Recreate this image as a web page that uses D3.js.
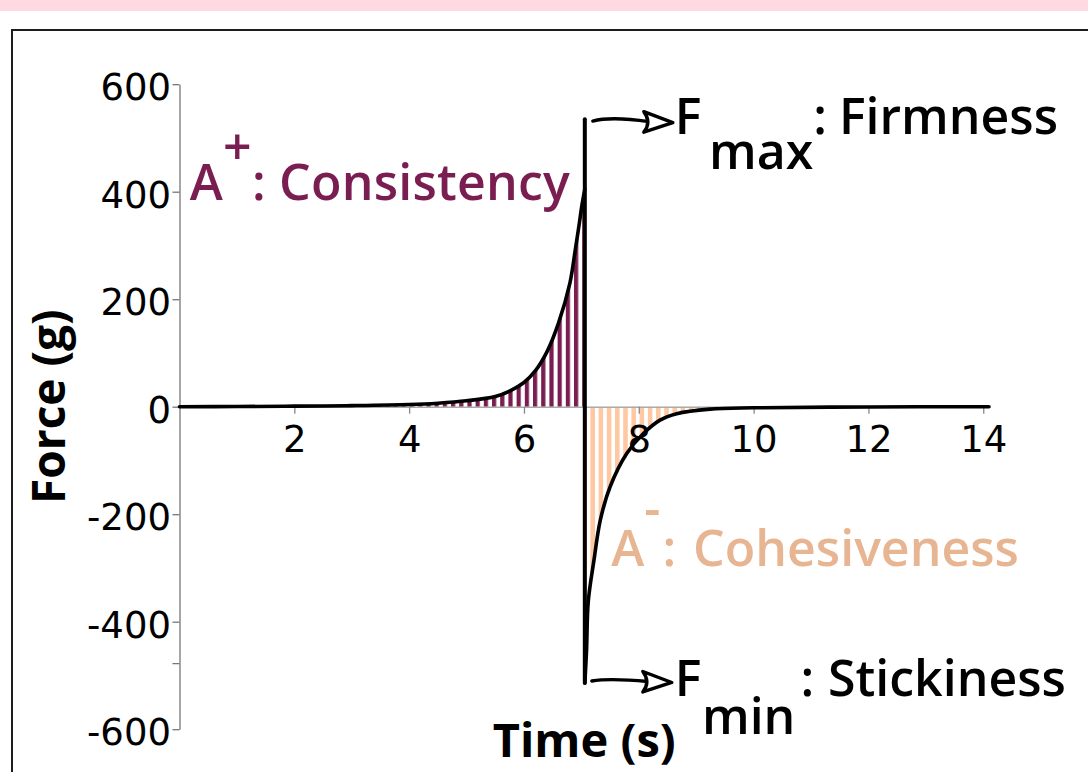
<!DOCTYPE html>
<html><head><meta charset="utf-8">
<script src="https://cdn.jsdelivr.net/npm/d3@7"></script>
<style>html,body{margin:0;padding:0;background:#fff;} svg{display:block;}</style>
</head><body>
<script>
// ---- data ----
const riseTime  = [0, 1, 2, 3, 4, 4.5, 5, 5.5, 5.75, 6.0, 6.2, 6.4, 6.6, 6.8, 6.89, 6.96, 7.01, 7.06];
const riseForce = [0, 0.3, 1, 2, 4, 6.5, 11, 19, 29, 45, 67, 102, 155, 230, 289, 338, 375, 405];
const spikeTime  = [7.06, 7.06];
const spikeForce = [535, -514];
const dropTime  = [7.06, 7.09, 7.12, 7.22, 7.33, 7.5, 7.79, 8.08, 8.37, 8.66, 9.24, 10, 12, 14.1];
const dropForce = [-514, -453, -362, -285, -211, -149, -87, -50, -25, -13, -4.5, -2, -0.5, 0];
const xTicks = [2, 4, 6, 8, 10, 12, 14];
const yTicks = [-600, -400, -200, 0, 200, 400, 600];
const yMinorTicks = [-478];
const xDomain = [0, 14.1];
const yDomain = [-600, 600];

const W = 1088, H = 772;
const purple = "#7a1d50", peachStripe = "#fec9a2", peachText = "#e8b592";
const labelFont = "'Open Sans', 'Noto Sans', sans-serif";

const svg = d3.select("body").append("svg").attr("width", W).attr("height", H);

// top band and frame
svg.append("rect").attr("x", 0).attr("y", 0).attr("width", W).attr("height", 11).attr("fill", "#ffdae3");
svg.append("path").attr("d", `M12,${H} L12,30 L${W},30`).attr("fill", "none").attr("stroke", "#1c1c1c").attr("stroke-width", 2);

const x = d3.scaleLinear().domain(xDomain).range([179.5, 989]);
const y = d3.scaleLinear().domain(yDomain).range([729.2, 84.2]);

const rise = riseTime.map((t, i) => ({t, f: riseForce[i]}));
const drop = dropTime.map((t, i) => ({t, f: dropForce[i]}));
const spike = spikeTime.map((t, i) => ({t, f: spikeForce[i]}));

// stripe patterns
const defs = svg.append("defs");
function stripes(id, color, w) {
  const p = defs.append("pattern").attr("id", id).attr("patternUnits", "userSpaceOnUse")
    .attr("width", 8.2).attr("height", 20);
  p.append("rect").attr("x", 0).attr("y", 0).attr("width", w).attr("height", 20).attr("fill", color);
}
stripes("hPlus", purple, 4.2);
stripes("hMinus", peachStripe, 4.6);

const smooth = d3.curveCatmullRom.alpha(0.5);
const area = d3.area().x(d => x(d.t)).y0(y(0)).y1(d => y(d.f)).curve(smooth);
svg.append("path").datum(rise).attr("d", area).attr("fill", "url(#hPlus)");
svg.append("path").datum(drop).attr("d", area).attr("fill", "url(#hMinus)");

// axes
const tickFont = "'DejaVu Sans', sans-serif";
const yAxis = svg.append("g").attr("transform", `translate(${x(0)},0)`)
  .call(d3.axisLeft(y).tickValues(yTicks).tickSize(7).tickSizeOuter(0).tickPadding(1.5).tickFormat(d => String(d)));
yAxis.selectAll("text").attr("font-family", tickFont).attr("font-size", 37).attr("fill", "#000").attr("dy", "0.42em");
yAxis.selectAll("line").attr("stroke", "#777").attr("stroke-width", 1.3);
yAxis.select(".domain").attr("stroke", "#777").attr("stroke-width", 1.3);
yAxis.selectAll(".minor").data(yMinorTicks).enter().append("line").attr("class", "minor")
  .attr("x1", -7).attr("x2", 0).attr("y1", d => y(d)).attr("y2", d => y(d)).attr("stroke", "#777").attr("stroke-width", 1.3);

const xAxis = svg.append("g").attr("transform", `translate(0,${y(0)})`)
  .call(d3.axisBottom(x).tickValues(xTicks).tickSize(7).tickSizeOuter(0).tickPadding(12).tickFormat(d => String(d)));
xAxis.selectAll("text").attr("font-family", tickFont).attr("font-size", 37).attr("fill", "#000");
xAxis.selectAll("line").attr("stroke", "#888").attr("stroke-width", 1.3);
xAxis.select(".domain").attr("stroke", "#aaa").attr("stroke-width", 1.6);
yAxis.raise();

// force curve
const line = d3.line().x(d => x(d.t)).y(d => y(d.f)).curve(smooth);
const curveStyle = p => p.attr("fill", "none").attr("stroke", "#000").attr("stroke-width", 3.6)
  .attr("stroke-linejoin", "round").attr("stroke-linecap", "round");
svg.append("path").datum(rise).attr("d", line).call(curveStyle);
svg.append("path").datum(drop).attr("d", line).call(curveStyle);
svg.append("path").datum(spike).attr("d", d3.line().x(d => x(d.t)).y(d => y(d.f))).call(curveStyle).attr("stroke-width", 4);

// axis titles
svg.append("text").attr("x", (x.range()[0] + x.range()[1]) / 2).attr("y", 757)
  .attr("text-anchor", "middle").attr("font-family", labelFont).attr("font-weight", 700).attr("font-size", 47)
  .text("Time (s)");
const yMid = (y.range()[0] + y.range()[1]) / 2;
svg.append("text").attr("transform", `translate(65,${yMid}) rotate(-90)`)
  .attr("text-anchor", "middle").attr("font-family", labelFont).attr("font-weight", 700).attr("font-size", 46)
  .text("Force (g)");

// annotation labels
function label(px, py, base, script, scriptDx, scriptDy, rest, restDx, color) {
  const t = svg.append("text").attr("x", px).attr("y", py).attr("font-family", labelFont)
    .attr("font-weight", 600).attr("font-size", 50).attr("fill", color);
  t.append("tspan").text(base);
  t.append("tspan").attr("dx", scriptDx).attr("dy", scriptDy).text(script);
  t.append("tspan").attr("dx", restDx).attr("dy", -scriptDy).text(rest);
  return t;
}
label(x(0.18), y(385), "A", "+", 0, -35, ": Consistency", 0, purple)
  .attr("textLength", 380).attr("lengthAdjust", "spacing");
label(x(7.52), y(-296), "A", "-", 0, -40, ":", 2, peachText)
  .append("tspan").attr("dx", 4).text(" Cohesiveness");

const spX = x(spikeTime[0]);
const topY = y(spikeForce[0]), botY = y(spikeForce[1]);
label(spX + 90, topY + 15, "F", "max", 7.5, 35, ":", 0, "#000").append("tspan").attr("dx", -1).text(" Firmness");
label(spX + 90, botY + 13, "F", "min", 0.5, 38, ":", 5, "#000").append("tspan").attr("dx", 1).text(" Stickiness");

// arrows
function arrow(sx, sy, bend) {
  const g = svg.append("g").attr("fill", "none").attr("stroke", "#000").attr("stroke-width", 3.4)
    .attr("stroke-linejoin", "round").attr("stroke-linecap", "round");
  g.append("path").attr("d", `M${sx},${sy} Q${sx + 18},${sy + bend} ${sx + 56},${sy + 0.5}`);
  g.append("path").attr("d", `M${sx + 51},${sy - 9.5} L${sx + 80},${sy + 1.5} L${sx + 51},${sy + 11} Q${sx + 59},${sy + 1} ${sx + 51},${sy - 9.5} Z`)
    .attr("fill", "#fff");
}
arrow(spX + 8, topY + 2, -5);
arrow(spX + 7, botY - 2, -3);
</script>
</body></html>
